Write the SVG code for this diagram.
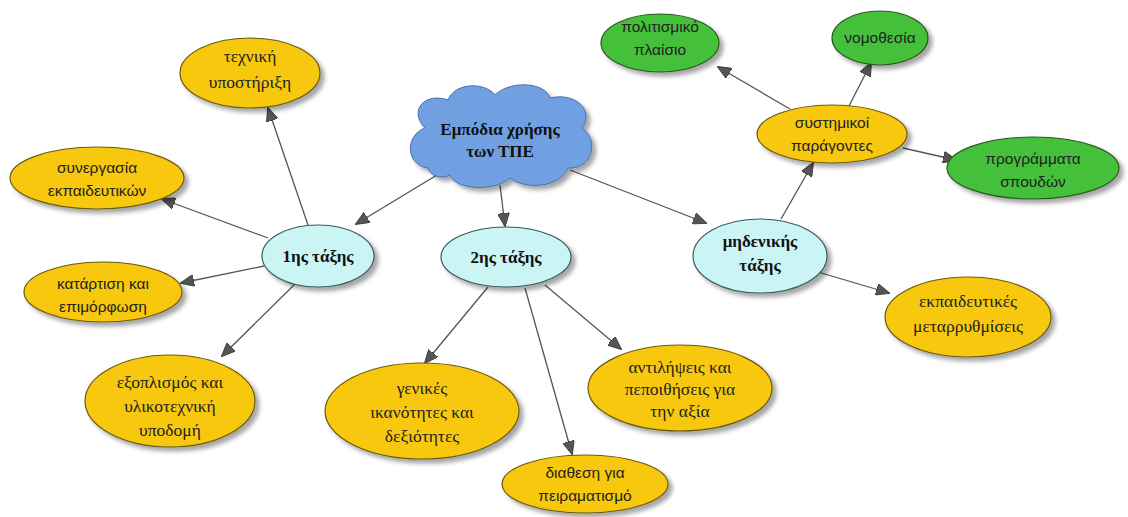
<svg xmlns="http://www.w3.org/2000/svg" width="1128" height="517" viewBox="0 0 1128 517">
<style>
.y{fill:#F7C80C;stroke:#6b5a10;stroke-width:1.2}
.c{fill:#CBF5F5;stroke:#3a5a5a;stroke-width:1.2}
.g{fill:#45C03A;stroke:#2a5a22;stroke-width:1.2}
.cl{fill:#6FA0E2;stroke:#4a6fa8;stroke-width:1}
.sh{filter:url(#ds)}
.sr{font-family:"Liberation Serif","DejaVu Serif",serif;font-size:17.5px;fill:#222;text-anchor:middle}
.a{font-family:"Liberation Sans",Arial,sans-serif;font-size:15.5px;fill:#222;text-anchor:middle}
.b{font-family:"Liberation Serif","DejaVu Serif",serif;font-size:17px;font-weight:bold;fill:#111;text-anchor:middle}
.e line{stroke:#555;stroke-width:1.3;marker-end:url(#ah)}
</style>
<defs>
<filter id="ds" x="-20%" y="-20%" width="150%" height="160%">
<feDropShadow dx="4" dy="4" stdDeviation="2.2" flood-color="#000" flood-opacity="0.35"/>
</filter>
<marker id="ah" viewBox="0 0 14 12" refX="13" refY="6" markerWidth="14" markerHeight="12" markerUnits="userSpaceOnUse" orient="auto">
<path d="M0,0 L14,6 L0,12 Z" fill="#555" stroke="#333" stroke-width="0.8"/>
</marker>
</defs>
<rect width="1128" height="517" fill="#fff"/>
<g class="e" id="connectors">
<line x1="442" y1="172" x2="356" y2="224"/>
<line x1="500" y1="185" x2="505" y2="226"/>
<line x1="570" y1="170" x2="706" y2="223"/>
<line x1="308" y1="225" x2="268" y2="108"/>
<line x1="268" y1="238" x2="162" y2="199"/>
<line x1="264" y1="266" x2="181" y2="283"/>
<line x1="295" y1="284" x2="222" y2="356"/>
<line x1="488" y1="287" x2="425" y2="363"/>
<line x1="525" y1="288" x2="572" y2="454"/>
<line x1="545" y1="285" x2="621" y2="349"/>
<line x1="781" y1="219" x2="813" y2="163"/>
<line x1="818" y1="272" x2="889" y2="293"/>
<line x1="790" y1="109" x2="718" y2="67"/>
<line x1="849" y1="106" x2="871" y2="63"/>
<line x1="903" y1="148" x2="956" y2="160"/>
</g>
<g id="cloud">
<path class="cl sh" d="M428 168 C405 165 405 135 425 128 C408 110 425 92 448 100 C455 82 485 82 495 95 C510 80 545 82 550 98 C575 92 595 110 582 128 C600 140 592 170 568 168 C560 188 525 190 510 178 C495 192 455 190 450 175 C440 180 430 175 428 168 Z"/>
<text class="b" x="500" y="135" font-size="18">Εμπόδια χρήσης</text>
<text class="b" x="500" y="157" font-size="18">των ΤΠΕ</text>
</g>
<g id="n1">
<ellipse class="c sh" cx="318" cy="256" rx="56" ry="31"/>
<text class="b" x="318" y="262">1ης τάξης</text>
</g>
<g id="n2">
<ellipse class="c sh" cx="506" cy="257" rx="65" ry="30"/>
<text class="b" x="506" y="263">2ης τάξης</text>
</g>
<g id="n0">
<ellipse class="c sh" cx="760" cy="256" rx="67" ry="37"/>
<text class="b" x="760" y="247">μηδενικής</text>
<text class="b" x="760" y="271">τάξης</text>
</g>
<g id="tech">
<ellipse class="y sh" cx="250" cy="73" rx="70" ry="35"/>
<text class="sr" x="250" y="62">τεχνική</text>
<text class="sr" x="250" y="88">υποστήριξη</text>
</g>
<g id="syn">
<ellipse class="y sh" cx="97" cy="178" rx="87" ry="31"/>
<text class="a" x="97" y="173">συνεργασία</text>
<text class="a" x="97" y="196">εκπαιδευτικών</text>
</g>
<g id="kat">
<ellipse class="y sh" cx="103" cy="292" rx="79" ry="30"/>
<text class="a" x="103" y="289">κατάρτιση και</text>
<text class="a" x="103" y="312">επιμόρφωση</text>
</g>
<g id="exo">
<ellipse class="y sh" cx="170" cy="401" rx="85" ry="46"/>
<text class="sr" x="170" y="388">εξοπλισμός και</text>
<text class="sr" x="170" y="412">υλικοτεχνική</text>
<text class="sr" x="170" y="436">υποδομή</text>
</g>
<g id="gen">
<ellipse class="y sh" cx="422" cy="411" rx="97" ry="48"/>
<text class="sr" x="422" y="394">γενικές</text>
<text class="sr" x="422" y="418">ικανότητες και</text>
<text class="sr" x="422" y="442">δεξιότητες</text>
</g>
<g id="dia">
<ellipse class="y sh" cx="585" cy="484" rx="83" ry="29"/>
<text class="a" x="585" y="478">διαθεση για</text>
<text class="a" x="585" y="501">πειραματισμό</text>
</g>
<g id="ant">
<ellipse class="y sh" cx="680" cy="388" rx="92" ry="43"/>
<text class="sr" x="680" y="373">αντιλήψεις και</text>
<text class="sr" x="680" y="395">πεποιθήσεις για</text>
<text class="sr" x="680" y="417">την αξία</text>
</g>
<g id="sys">
<ellipse class="y sh" cx="832" cy="134" rx="75" ry="29"/>
<text class="a" x="832" y="128">συστημικοί</text>
<text class="a" x="832" y="151">παράγοντες</text>
</g>
<g id="pol">
<ellipse class="g sh" cx="660" cy="43" rx="59" ry="29"/>
<text class="a" x="660" y="32">πολιτισμικό</text>
<text class="a" x="660" y="55">πλαίσιο</text>
</g>
<g id="nom">
<ellipse class="g sh" cx="880" cy="38" rx="48" ry="27"/>
<text class="a" x="880" y="43">νομοθεσία</text>
</g>
<g id="pro">
<ellipse class="g sh" cx="1033" cy="168" rx="86" ry="31"/>
<text class="a" x="1033" y="164">προγράμματα</text>
<text class="a" x="1033" y="187">σπουδών</text>
</g>
<g id="ekp">
<ellipse class="y sh" cx="968" cy="317" rx="83" ry="40"/>
<text class="sr" x="968" y="307">εκπαιδευτικές</text>
<text class="sr" x="968" y="332">μεταρρυθμίσεις</text>
</g>
</svg>
